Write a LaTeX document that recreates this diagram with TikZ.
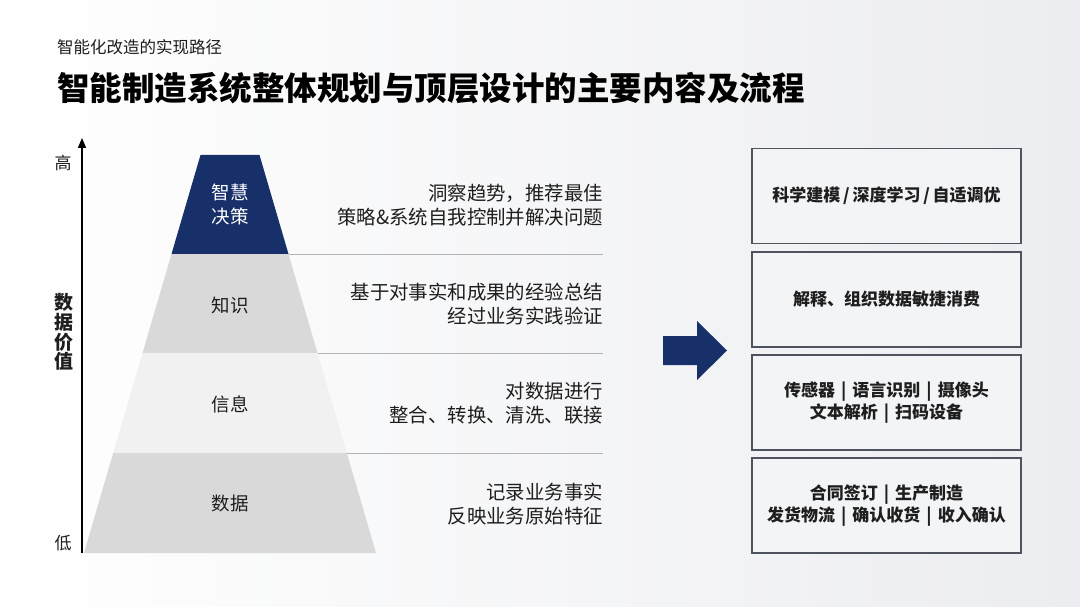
\documentclass[tikz,border=0pt]{standalone}
\usepackage{fontspec}
\setmainfont{Noto Sans CJK SC}
\usepackage{tikz}
\usetikzlibrary{arrows.meta}
\definecolor{navy}{HTML}{18306A}
\definecolor{laygray}{HTML}{D9D9D9}
\definecolor{laylight}{HTML}{F1F1F2}
\definecolor{bgright}{HTML}{ECEDF0}
\definecolor{boxline}{HTML}{4E535E}
\definecolor{boxbg}{HTML}{F3F4F6}
\definecolor{sepgray}{HTML}{B4B4B6}
\definecolor{txt}{HTML}{1E1E1E}
\newcommand{\sepbar}{\hspace{6pt}|\hspace{6pt}}

\begin{document}
\begin{tikzpicture}[x=1pt,y=-1pt,
  lay/.style={inner sep=0pt, font=\fontsize{18.5}{24}\selectfont, align=center, text=txt},
  desc/.style={inner sep=0pt, anchor=east, font=\fontsize{19.4}{24}\selectfont, align=right, text=txt},
  rbox/.style={draw=boxline, line width=1.2pt, fill=boxbg, minimum width=269pt, minimum height=95pt,
    inner sep=0pt, align=center, font=\fontsize{17}{22}\selectfont\bfseries, text=txt},
  axlab/.style={inner sep=0pt, font=\fontsize{17}{20}\selectfont, text=txt}]
  \useasboundingbox (0,0) rectangle (1080,607);
  \shade[left color=white, right color=bgright] (0,0) rectangle (1080,607);

  % heading
  \node[anchor=west, inner sep=0pt, font=\fontsize{16.5}{20}\selectfont, text=txt] (sub) at (57,47) {智能化改造的实现路径};
  \node[anchor=west, inner sep=0pt, font=\fontsize{32.5}{38}\selectfont\bfseries, text=black] (title) at (57,88) {智能制造系统整体规划与顶层设计的主要内容及流程};

  % value axis
  \coordinate (axbot) at (82,553);
  \coordinate (axtop) at (82,138);
  \draw[line width=1.5pt, -{Triangle[length=10pt,width=8pt]}] (axbot) -- (axtop);
  \node[axlab] (hi) at (63,163) {高};
  \node[axlab] (lo) at (63,543) {低};
  \node[inner sep=0pt, align=center, font=\fontsize{19}{19.7}\selectfont\bfseries, text=txt] (val) at (64,332) {数\\据\\价\\值};

  % pyramid layers: top y / bottom y / half width top / half width bottom
  \foreach \ya/\yb/\wa/\wb/\c in {155/254/29.5/58.5/navy, 254/353/58.5/87.5/laygray,
      353/453/87.5/116.8/laylight, 453/553/116.8/146/laygray}{
    \fill[\c] ({230-\wa},\ya) -- ({230+\wa},\ya) -- ({230+\wb},\yb) -- ({230-\wb},\yb) -- cycle;}
  \foreach \y/\w/\n in {254/58.5/a, 353/87.5/b, 453/116.8/c}{
    \coordinate (s\n) at ({230+\w},\y);
    \coordinate (e\n) at (603,\y);
    \draw[sepgray, line width=0.8pt] (s\n) -- (e\n);}

  \node[lay, text=white] (wis) at (230,204) {智慧\\决策};
  \node[lay] (kno) at (230,305) {知识};
  \node[lay] (inf) at (230,404) {信息};
  \node[lay] (dat) at (230,503) {数据};

  \node[desc] (d1) at (603,205) {洞察趋势，推荐最佳\\策略\&系统自我控制并解决问题};
  \node[desc] (d2) at (603,304.5) {基于对事实和成果的经验总结\\经过业务实践验证};
  \node[desc] (d3) at (603,403) {对数据进行\\整合、转换、清洗、联接};
  \node[desc] (d4) at (603,504) {记录业务事实\\反映业务原始特征};

  % arrow
  \fill[navy] (663,336) -- (697,336) -- (697,321) -- (727,350.5) -- (697,380) -- (697,365) -- (663,365) -- cycle;

  % right boxes
  \node[rbox] (b1) at (886.5,196) {科学建模\,/\,深度学习\,/\,自适调优};
  \node[rbox] (b2) at (886.5,299.5) {解释、组织数据敏捷消费};
  \node[rbox] (b3) at (886.5,402.5) {传感器\sepbar 语言识别\sepbar 摄像头\\文本解析\sepbar 扫码设备};
  \node[rbox] (b4) at (886.5,505.5) {合同签订\sepbar 生产制造\\发货物流\sepbar 确认收货\sepbar 收入确认};
\end{tikzpicture}
\end{document}
